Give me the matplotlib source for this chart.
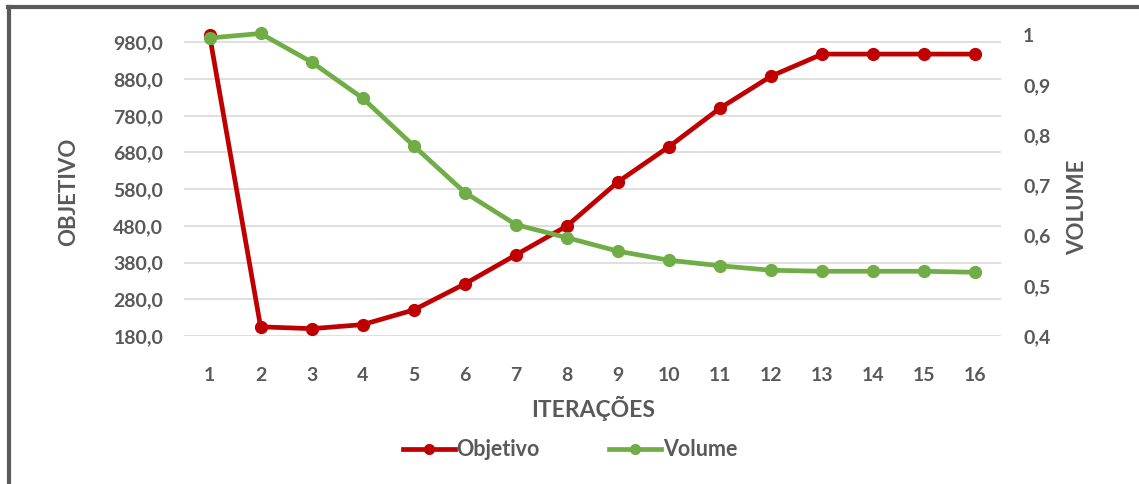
import matplotlib

matplotlib.use("Agg")
import matplotlib.pyplot as plt
from matplotlib.lines import Line2D
from matplotlib.ticker import FuncFormatter

plt.rcParams["font.family"] = ["Lato", "DejaVu Sans"]

RED = "#C00000"
GREEN = "#70AD47"
TXT = "#595959"
GRID = "#D9D9D9"

iteracoes = list(range(1, 17))
objetivo = [1000, 205, 200, 211, 251, 322, 401, 480, 600, 696, 801, 888, 948, 948, 948, 948]
volume = [0.994, 1.003, 0.946, 0.874, 0.779, 0.686, 0.622, 0.596, 0.569, 0.551,
          0.540, 0.531, 0.529, 0.529, 0.529, 0.527]
obj_ticks = [180, 280, 380, 480, 580, 680, 780, 880, 980]
vol_ticks = [0.4, 0.5, 0.6, 0.7, 0.8, 0.9, 1.0]

W, H = 1139, 484
fig = plt.figure(figsize=(W / 100, H / 100), dpi=100)
fig.patch.set_facecolor("white")

ax = fig.add_axes([184 / W, 1 - 336 / H, (1001 - 184) / W, (336 - 35) / H])
ax2 = ax.twinx()

ax.set_xlim(0.5, 16.5)
ax.set_ylim(180, 1000)
ax2.set_ylim(0.4, 1.0)
ax.set_yticks(obj_ticks)
ax.yaxis.set_major_formatter(FuncFormatter(lambda v, p: f"{v:.1f}".replace(".", ",")))
ax2.set_yticks(vol_ticks)
ax2.yaxis.set_major_formatter(FuncFormatter(
    lambda v, p: "1" if abs(v - 1) < 1e-9 else f"{v:.1f}".replace(".", ",")))
ax.set_xticks(iteracoes)

ax.grid(axis="y", color=GRID, lw=1.2)
ax.set_axisbelow(True)
for a in (ax, ax2):
    for s in a.spines.values():
        s.set_visible(False)
    a.tick_params(length=0, colors=TXT, labelsize=14)
    for lab in a.get_xticklabels() + a.get_yticklabels():
        lab.set_fontweight("bold")
ax.tick_params(axis="y", pad=15)
ax.tick_params(axis="x", pad=22)
ax2.tick_params(axis="y", pad=16)

ax.plot(iteracoes, objetivo, color=RED, lw=3.4, marker="o", ms=8.5, clip_on=False, zorder=3)
ax2.plot(iteracoes, volume, color=GREEN, lw=3.4, marker="o", ms=8.5, clip_on=False, zorder=3)

fig.text(69 / W, 1 - 192 / H, "OBJETIVO", rotation=90, ha="center", va="center",
         color=TXT, fontsize=16, fontweight="bold")
fig.text(1078 / W, 1 - 207 / H, "VOLUME", rotation=90, ha="center", va="center",
         color=TXT, fontsize=16, fontweight="bold")
fig.text(593 / W, 1 - 408 / H, "ITERAÇÕES", ha="center", va="center",
         color=TXT, fontsize=16.5, fontweight="bold")

handles = [Line2D([], [], color=RED, lw=3.4, marker="o", ms=7),
           Line2D([], [], color=GREEN, lw=3.4, marker="o", ms=7)]
leg = fig.legend(handles, ["Objetivo", "Volume"], loc="center", bbox_to_anchor=(570 / W, 1 - 450 / H),
                 ncol=2, frameon=False, handlelength=2.4, handletextpad=0.1, columnspacing=3.2,
                 prop={"size": 15.5, "weight": "bold"})
for t in leg.get_texts():
    t.set_color(TXT)

# frame border (left and top)
fig.add_artist(Line2D([9 / W, 9 / W], [0, 1 - 6.5 / H], color="#5A5A5A", lw=3, transform=fig.transFigure))
fig.add_artist(Line2D([7.5 / W, 1], [1 - 6.5 / H, 1 - 6.5 / H], color="#5A5A5A", lw=3, transform=fig.transFigure))

fig.savefig("out.png", dpi=100, facecolor="white")
